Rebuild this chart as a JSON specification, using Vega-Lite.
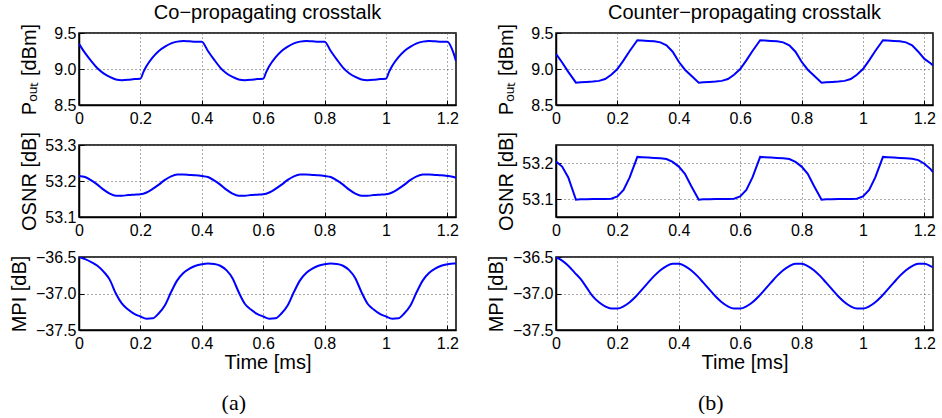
{
  "$schema": "https://vega.github.io/schema/vega-lite/v6.json",
  "padding": {"left": 8, "top": 2, "right": 8, "bottom": 0},
  "datasets": {
    "a1": [
      {"t":0.00,"v":9.35},{"t":0.02,"v":9.22},{"t":0.04,"v":9.11},{"t":0.06,"v":9.01},{"t":0.08,"v":8.94},{"t":0.10,"v":8.89},{"t":0.12,"v":8.855},{"t":0.14,"v":8.845},{"t":0.16,"v":8.85},{"t":0.18,"v":8.86},{"t":0.20,"v":8.865},{"t":0.21,"v":8.96},{"t":0.22,"v":9.04},{"t":0.24,"v":9.16},{"t":0.26,"v":9.25},{"t":0.28,"v":9.31},{"t":0.30,"v":9.355},{"t":0.32,"v":9.38},{"t":0.34,"v":9.39},{"t":0.36,"v":9.385},{"t":0.38,"v":9.38},
      {"t":0.40,"v":9.38},{"t":0.42,"v":9.25},{"t":0.44,"v":9.13},{"t":0.46,"v":9.02},{"t":0.48,"v":8.94},{"t":0.50,"v":8.89},{"t":0.52,"v":8.855},{"t":0.54,"v":8.845},{"t":0.56,"v":8.85},{"t":0.58,"v":8.86},{"t":0.60,"v":8.865},{"t":0.61,"v":8.96},{"t":0.62,"v":9.04},{"t":0.64,"v":9.16},{"t":0.66,"v":9.25},{"t":0.68,"v":9.31},{"t":0.70,"v":9.355},{"t":0.72,"v":9.38},{"t":0.74,"v":9.39},{"t":0.76,"v":9.385},{"t":0.78,"v":9.38},
      {"t":0.80,"v":9.38},{"t":0.82,"v":9.25},{"t":0.84,"v":9.13},{"t":0.86,"v":9.02},{"t":0.88,"v":8.94},{"t":0.90,"v":8.89},{"t":0.92,"v":8.855},{"t":0.94,"v":8.845},{"t":0.96,"v":8.85},{"t":0.98,"v":8.86},{"t":1.00,"v":8.865},{"t":1.01,"v":8.96},{"t":1.02,"v":9.04},{"t":1.04,"v":9.16},{"t":1.06,"v":9.25},{"t":1.08,"v":9.31},{"t":1.10,"v":9.355},{"t":1.12,"v":9.38},{"t":1.14,"v":9.39},{"t":1.16,"v":9.385},{"t":1.18,"v":9.38},
      {"t":1.20,"v":9.38},{"t":1.22,"v":9.22},{"t":1.228,"v":9.11}
    ],
    "a2": [
      {"t":0.00,"v":53.214},{"t":0.02,"v":53.211},{"t":0.04,"v":53.202},{"t":0.06,"v":53.19},{"t":0.08,"v":53.176},{"t":0.10,"v":53.165},{"t":0.12,"v":53.159},{"t":0.14,"v":53.159},{"t":0.16,"v":53.161},{"t":0.18,"v":53.162},{"t":0.20,"v":53.163},{"t":0.22,"v":53.168},{"t":0.24,"v":53.178},{"t":0.26,"v":53.19},{"t":0.28,"v":53.203},{"t":0.30,"v":53.213},{"t":0.32,"v":53.218},{"t":0.34,"v":53.218},{"t":0.36,"v":53.217},{"t":0.38,"v":53.216},
      {"t":0.40,"v":53.214},{"t":0.42,"v":53.211},{"t":0.44,"v":53.202},{"t":0.46,"v":53.19},{"t":0.48,"v":53.176},{"t":0.50,"v":53.165},{"t":0.52,"v":53.159},{"t":0.54,"v":53.159},{"t":0.56,"v":53.161},{"t":0.58,"v":53.162},{"t":0.60,"v":53.163},{"t":0.62,"v":53.168},{"t":0.64,"v":53.178},{"t":0.66,"v":53.19},{"t":0.68,"v":53.203},{"t":0.70,"v":53.213},{"t":0.72,"v":53.218},{"t":0.74,"v":53.218},{"t":0.76,"v":53.217},{"t":0.78,"v":53.216},
      {"t":0.80,"v":53.214},{"t":0.82,"v":53.211},{"t":0.84,"v":53.202},{"t":0.86,"v":53.19},{"t":0.88,"v":53.176},{"t":0.90,"v":53.165},{"t":0.92,"v":53.159},{"t":0.94,"v":53.159},{"t":0.96,"v":53.161},{"t":0.98,"v":53.162},{"t":1.00,"v":53.163},{"t":1.02,"v":53.168},{"t":1.04,"v":53.178},{"t":1.06,"v":53.19},{"t":1.08,"v":53.203},{"t":1.10,"v":53.213},{"t":1.12,"v":53.218},{"t":1.14,"v":53.218},{"t":1.16,"v":53.217},{"t":1.18,"v":53.216},
      {"t":1.20,"v":53.214},{"t":1.22,"v":53.211},{"t":1.228,"v":53.209}
    ],
    "a3": [
      {"t":0.00,"v":-36.50},{"t":0.02,"v":-36.53},{"t":0.04,"v":-36.57},{"t":0.06,"v":-36.62},{"t":0.08,"v":-36.70},{"t":0.10,"v":-36.81},{"t":0.12,"v":-37.00},{"t":0.14,"v":-37.14},{"t":0.16,"v":-37.22},{"t":0.18,"v":-37.28},{"t":0.20,"v":-37.315},{"t":0.22,"v":-37.345},{"t":0.24,"v":-37.34},{"t":0.26,"v":-37.27},{"t":0.28,"v":-37.16},{"t":0.30,"v":-36.98},{"t":0.32,"v":-36.82},{"t":0.34,"v":-36.72},{"t":0.36,"v":-36.66},{"t":0.38,"v":-36.62},
      {"t":0.40,"v":-36.60},{"t":0.42,"v":-36.59},{"t":0.44,"v":-36.595},{"t":0.46,"v":-36.62},{"t":0.48,"v":-36.68},{"t":0.50,"v":-36.79},{"t":0.52,"v":-36.98},{"t":0.54,"v":-37.14},{"t":0.56,"v":-37.22},{"t":0.58,"v":-37.28},{"t":0.60,"v":-37.315},{"t":0.62,"v":-37.345},{"t":0.64,"v":-37.34},{"t":0.66,"v":-37.27},{"t":0.68,"v":-37.16},{"t":0.70,"v":-36.98},{"t":0.72,"v":-36.82},{"t":0.74,"v":-36.72},{"t":0.76,"v":-36.66},{"t":0.78,"v":-36.62},
      {"t":0.80,"v":-36.60},{"t":0.82,"v":-36.59},{"t":0.84,"v":-36.595},{"t":0.86,"v":-36.62},{"t":0.88,"v":-36.68},{"t":0.90,"v":-36.79},{"t":0.92,"v":-36.98},{"t":0.94,"v":-37.14},{"t":0.96,"v":-37.22},{"t":0.98,"v":-37.28},{"t":1.00,"v":-37.315},{"t":1.02,"v":-37.345},{"t":1.04,"v":-37.34},{"t":1.06,"v":-37.27},{"t":1.08,"v":-37.16},{"t":1.10,"v":-36.98},{"t":1.12,"v":-36.82},{"t":1.14,"v":-36.72},{"t":1.16,"v":-36.66},{"t":1.18,"v":-36.62},
      {"t":1.20,"v":-36.60},{"t":1.22,"v":-36.59},{"t":1.228,"v":-36.59}
    ],
    "b1": [
      {"t":0.00,"v":9.21},{"t":0.02,"v":9.09},{"t":0.04,"v":8.96},{"t":0.065,"v":8.81},{"t":0.08,"v":8.815},{"t":0.10,"v":8.82},{"t":0.12,"v":8.825},{"t":0.14,"v":8.835},{"t":0.16,"v":8.86},{"t":0.18,"v":8.92},{"t":0.20,"v":9.00},{"t":0.22,"v":9.12},{"t":0.24,"v":9.25},{"t":0.265,"v":9.40},{"t":0.28,"v":9.395},{"t":0.30,"v":9.39},{"t":0.32,"v":9.385},{"t":0.34,"v":9.37},{"t":0.36,"v":9.33},{"t":0.38,"v":9.24},
      {"t":0.40,"v":9.10},{"t":0.42,"v":8.99},{"t":0.44,"v":8.91},{"t":0.465,"v":8.81},{"t":0.48,"v":8.815},{"t":0.50,"v":8.82},{"t":0.52,"v":8.825},{"t":0.54,"v":8.835},{"t":0.56,"v":8.86},{"t":0.58,"v":8.92},{"t":0.60,"v":9.00},{"t":0.62,"v":9.12},{"t":0.64,"v":9.25},{"t":0.665,"v":9.40},{"t":0.68,"v":9.395},{"t":0.70,"v":9.39},{"t":0.72,"v":9.385},{"t":0.74,"v":9.37},{"t":0.76,"v":9.33},{"t":0.78,"v":9.24},
      {"t":0.80,"v":9.10},{"t":0.82,"v":8.99},{"t":0.84,"v":8.91},{"t":0.865,"v":8.81},{"t":0.88,"v":8.815},{"t":0.90,"v":8.82},{"t":0.92,"v":8.825},{"t":0.94,"v":8.835},{"t":0.96,"v":8.86},{"t":0.98,"v":8.92},{"t":1.00,"v":9.00},{"t":1.02,"v":9.12},{"t":1.04,"v":9.25},{"t":1.065,"v":9.40},{"t":1.08,"v":9.395},{"t":1.10,"v":9.39},{"t":1.12,"v":9.385},{"t":1.14,"v":9.37},{"t":1.16,"v":9.33},{"t":1.18,"v":9.24},
      {"t":1.20,"v":9.14},{"t":1.22,"v":9.08},{"t":1.228,"v":9.05}
    ],
    "b2": [
      {"t":0.00,"v":53.204},{"t":0.02,"v":53.19},{"t":0.04,"v":53.16},{"t":0.065,"v":53.098},{"t":0.08,"v":53.099},{"t":0.10,"v":53.099},{"t":0.12,"v":53.1},{"t":0.14,"v":53.1},{"t":0.16,"v":53.1},{"t":0.18,"v":53.101},{"t":0.20,"v":53.107},{"t":0.22,"v":53.125},{"t":0.24,"v":53.16},{"t":0.265,"v":53.217},{"t":0.28,"v":53.216},{"t":0.30,"v":53.215},{"t":0.32,"v":53.214},{"t":0.34,"v":53.213},{"t":0.36,"v":53.211},{"t":0.38,"v":53.203},
      {"t":0.40,"v":53.19},{"t":0.42,"v":53.17},{"t":0.44,"v":53.137},{"t":0.465,"v":53.098},{"t":0.48,"v":53.099},{"t":0.50,"v":53.099},{"t":0.52,"v":53.1},{"t":0.54,"v":53.1},{"t":0.56,"v":53.1},{"t":0.58,"v":53.101},{"t":0.60,"v":53.107},{"t":0.62,"v":53.125},{"t":0.64,"v":53.16},{"t":0.665,"v":53.217},{"t":0.68,"v":53.216},{"t":0.70,"v":53.215},{"t":0.72,"v":53.214},{"t":0.74,"v":53.213},{"t":0.76,"v":53.211},{"t":0.78,"v":53.203},
      {"t":0.80,"v":53.19},{"t":0.82,"v":53.17},{"t":0.84,"v":53.137},{"t":0.865,"v":53.098},{"t":0.88,"v":53.099},{"t":0.90,"v":53.099},{"t":0.92,"v":53.1},{"t":0.94,"v":53.1},{"t":0.96,"v":53.1},{"t":0.98,"v":53.101},{"t":1.00,"v":53.107},{"t":1.02,"v":53.125},{"t":1.04,"v":53.16},{"t":1.065,"v":53.217},{"t":1.08,"v":53.216},{"t":1.10,"v":53.215},{"t":1.12,"v":53.214},{"t":1.14,"v":53.213},{"t":1.16,"v":53.212},{"t":1.18,"v":53.208},
      {"t":1.20,"v":53.198},{"t":1.22,"v":53.183},{"t":1.228,"v":53.175}
    ],
    "b3": [
      {"t":0.00,"v":-36.50},{"t":0.02,"v":-36.55},{"t":0.04,"v":-36.62},{"t":0.06,"v":-36.71},{"t":0.08,"v":-36.80},{"t":0.10,"v":-36.92},{"t":0.12,"v":-37.04},{"t":0.14,"v":-37.12},{"t":0.16,"v":-37.176},{"t":0.18,"v":-37.206},{"t":0.20,"v":-37.206},{"t":0.22,"v":-37.176},{"t":0.24,"v":-37.119},{"t":0.26,"v":-37.041},{"t":0.28,"v":-36.948},{"t":0.30,"v":-36.852},{"t":0.32,"v":-36.759},{"t":0.34,"v":-36.681},{"t":0.36,"v":-36.624},{"t":0.38,"v":-36.594},
      {"t":0.40,"v":-36.594},{"t":0.42,"v":-36.624},{"t":0.44,"v":-36.681},{"t":0.46,"v":-36.759},{"t":0.48,"v":-36.852},{"t":0.50,"v":-36.948},{"t":0.52,"v":-37.041},{"t":0.54,"v":-37.119},{"t":0.56,"v":-37.176},{"t":0.58,"v":-37.206},{"t":0.60,"v":-37.206},{"t":0.62,"v":-37.176},{"t":0.64,"v":-37.119},{"t":0.66,"v":-37.041},{"t":0.68,"v":-36.948},{"t":0.70,"v":-36.852},{"t":0.72,"v":-36.759},{"t":0.74,"v":-36.681},{"t":0.76,"v":-36.624},{"t":0.78,"v":-36.594},
      {"t":0.80,"v":-36.594},{"t":0.82,"v":-36.624},{"t":0.84,"v":-36.681},{"t":0.86,"v":-36.759},{"t":0.88,"v":-36.852},{"t":0.90,"v":-36.948},{"t":0.92,"v":-37.041},{"t":0.94,"v":-37.119},{"t":0.96,"v":-37.176},{"t":0.98,"v":-37.206},{"t":1.00,"v":-37.206},{"t":1.02,"v":-37.176},{"t":1.04,"v":-37.119},{"t":1.06,"v":-37.041},{"t":1.08,"v":-36.948},{"t":1.10,"v":-36.852},{"t":1.12,"v":-36.759},{"t":1.14,"v":-36.681},{"t":1.16,"v":-36.624},{"t":1.18,"v":-36.594},
      {"t":1.20,"v":-36.594},{"t":1.22,"v":-36.624},{"t":1.228,"v":-36.64}
    ]
  },
  "hconcat": [
    {
      "title": {"text": "(a)", "orient": "bottom", "anchor": "middle", "font": "Liberation Serif", "fontSize": 22, "offset": 20},
      "spacing": 40,
      "bounds": "flush",
      "vconcat": [
        {
          "width": 377, "height": 72,
          "view": {"stroke": "#000000", "strokeWidth": 1.5},
          "title": {"text": "Co−propagating crosstalk", "frame": "group", "anchor": "middle", "offset": 0},
          "data": {"name": "a1"},
          "mark": {"type": "line", "color": "#0000ff", "strokeWidth": 2, "interpolate": "monotone", "clip": true},
          "encoding": {
            "x": {"field": "t", "type": "quantitative", "scale": {"domain": [0, 1.228], "nice": false, "zero": false}, "axis": {"values": [0, 0.2, 0.4, 0.6, 0.8, 1, 1.2], "format": "~g", "title": null}},
            "y": {"field": "v", "type": "quantitative", "scale": {"domain": [8.5, 9.5], "nice": false, "zero": false}, "axis": {"values": [8.5, 9, 9.5], "format": ".1f", "title": "Pₒᵤₜ [dBm]", "minExtent": 38, "maxExtent": 38}}
          }
        },
        {
          "width": 377, "height": 72,
          "view": {"stroke": "#000000", "strokeWidth": 1.5},
          "data": {"name": "a2"},
          "mark": {"type": "line", "color": "#0000ff", "strokeWidth": 2, "interpolate": "monotone", "clip": true},
          "encoding": {
            "x": {"field": "t", "type": "quantitative", "scale": {"domain": [0, 1.228], "nice": false, "zero": false}, "axis": {"values": [0, 0.2, 0.4, 0.6, 0.8, 1, 1.2], "format": "~g", "title": null}},
            "y": {"field": "v", "type": "quantitative", "scale": {"domain": [53.1, 53.3], "nice": false, "zero": false}, "axis": {"values": [53.1, 53.2, 53.3], "format": ".1f", "title": "OSNR [dB]", "minExtent": 38, "maxExtent": 38}}
          }
        },
        {
          "width": 377, "height": 73,
          "view": {"stroke": "#000000", "strokeWidth": 1.5},
          "data": {"name": "a3"},
          "mark": {"type": "line", "color": "#0000ff", "strokeWidth": 2, "interpolate": "monotone", "clip": true},
          "encoding": {
            "x": {"field": "t", "type": "quantitative", "scale": {"domain": [0, 1.228], "nice": false, "zero": false}, "axis": {"values": [0, 0.2, 0.4, 0.6, 0.8, 1, 1.2], "format": "~g", "title": "Time [ms]", "titlePadding": 1}},
            "y": {"field": "v", "type": "quantitative", "scale": {"domain": [-37.5, -36.5], "nice": false, "zero": false}, "axis": {"values": [-37.5, -37, -36.5], "format": ".1f", "title": "MPI [dB]", "minExtent": 48, "maxExtent": 48}}
          }
        }
      ]
    },
    {
      "title": {"text": "(b)", "orient": "bottom", "anchor": "middle", "font": "Liberation Serif", "fontSize": 22, "offset": 20},
      "spacing": 40,
      "bounds": "flush",
      "vconcat": [
        {
          "width": 377, "height": 72,
          "view": {"stroke": "#000000", "strokeWidth": 1.5},
          "title": {"text": "Counter−propagating crosstalk", "frame": "group", "anchor": "middle", "offset": 0},
          "data": {"name": "b1"},
          "mark": {"type": "line", "color": "#0000ff", "strokeWidth": 2, "interpolate": "linear", "clip": true},
          "encoding": {
            "x": {"field": "t", "type": "quantitative", "scale": {"domain": [0, 1.228], "nice": false, "zero": false}, "axis": {"values": [0, 0.2, 0.4, 0.6, 0.8, 1, 1.2], "format": "~g", "title": null}},
            "y": {"field": "v", "type": "quantitative", "scale": {"domain": [8.5, 9.5], "nice": false, "zero": false}, "axis": {"values": [8.5, 9, 9.5], "format": ".1f", "title": "Pₒᵤₜ [dBm]", "minExtent": 38, "maxExtent": 38}}
          }
        },
        {
          "width": 377, "height": 72,
          "view": {"stroke": "#000000", "strokeWidth": 1.5},
          "data": {"name": "b2"},
          "mark": {"type": "line", "color": "#0000ff", "strokeWidth": 2, "interpolate": "linear", "clip": true},
          "encoding": {
            "x": {"field": "t", "type": "quantitative", "scale": {"domain": [0, 1.228], "nice": false, "zero": false}, "axis": {"values": [0, 0.2, 0.4, 0.6, 0.8, 1, 1.2], "format": "~g", "title": null}},
            "y": {"field": "v", "type": "quantitative", "scale": {"domain": [53.05, 53.25], "nice": false, "zero": false}, "axis": {"values": [53.1, 53.2], "format": ".1f", "title": "OSNR [dB]", "minExtent": 38, "maxExtent": 38}}
          }
        },
        {
          "width": 377, "height": 73,
          "view": {"stroke": "#000000", "strokeWidth": 1.5},
          "data": {"name": "b3"},
          "mark": {"type": "line", "color": "#0000ff", "strokeWidth": 2, "interpolate": "monotone", "clip": true},
          "encoding": {
            "x": {"field": "t", "type": "quantitative", "scale": {"domain": [0, 1.228], "nice": false, "zero": false}, "axis": {"values": [0, 0.2, 0.4, 0.6, 0.8, 1, 1.2], "format": "~g", "title": "Time [ms]", "titlePadding": 1}},
            "y": {"field": "v", "type": "quantitative", "scale": {"domain": [-37.5, -36.5], "nice": false, "zero": false}, "axis": {"values": [-37.5, -37, -36.5], "format": ".1f", "title": "MPI [dB]", "minExtent": 48, "maxExtent": 48}}
          }
        }
      ]
    }
  ],
  "spacing": 25,
  "config": {
    "font": "Liberation Sans",
    "background": "#ffffff",
    "view": {"stroke": "#000000", "strokeWidth": 1.5},
    "style": {"cell": {"stroke": "#000000", "strokeWidth": 1.5}},
    "title": {"font": "Liberation Sans", "fontSize": 20, "fontWeight": "normal", "color": "#000000"},
    "axis": {
      "labelFont": "Liberation Sans", "labelFontSize": 16, "labelColor": "#000000",
      "titleFont": "Liberation Sans", "titleFontSize": 20, "titleFontWeight": "normal", "titleColor": "#000000",
      "domainColor": "#000000", "domainWidth": 1.5,
      "tickColor": "#000000", "tickSize": -5, "tickWidth": 1,
      "grid": true, "gridColor": "#555555", "gridDash": [1, 3], "gridWidth": 1,
      "labelFlush": false, "labelOverlap": false, "labelBound": false
    },
    "axisX": {"labelPadding": 10},
    "axisY": {"labelPadding": 8, "titlePadding": 2}
  }
}
